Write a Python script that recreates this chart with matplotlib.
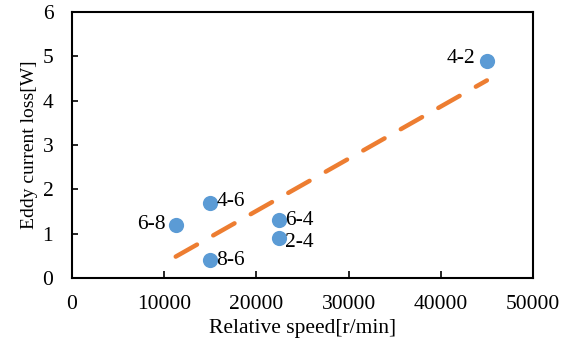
import numpy as np
import matplotlib
matplotlib.use("Agg")
import matplotlib.pyplot as plt

plt.rcParams["font.family"] = ["Liberation Serif", "DejaVu Serif"]

speed = [11250, 15000, 15000, 22500, 22500, 45000]
loss = [1.2, 1.7, 0.4, 1.3, 0.9, 4.9]
names = ["6-8", "4-6", "8-6", "6-4", "2-4", "4-2"]
# label placement: (dx px, dy px, ha)
offsets = [(-10, 0, "right"), (6, 1, "left"), (6, 0, "left"),
           (6, 0, "left"), (6, -4, "left"), (-12, 2, "right")]

fig = plt.figure(figsize=(5.73, 3.41), dpi=100)
ax = fig.add_axes([72 / 573, 1 - 278 / 341, 461 / 573, 266 / 341])

# linear trend line
k, b = np.polyfit(speed, loss, 1)
xs = np.array([min(speed), max(speed)])
ax.plot(xs, k * xs + b, color="#ED7D31", lw=3.2, dashes=(5.5, 4.2),
        dash_capstyle="round", zorder=2)

ax.scatter(speed, loss, s=120, color="#5B9BD5", zorder=3, linewidths=0)
for x, y, t, (dx, dy, ha) in zip(speed, loss, names, offsets):
    ax.annotate(t, (x, y), xytext=(dx, dy), textcoords="offset pixels",
                ha=ha, va="center", fontsize=15.5)

ax.set_xlim(0, 50000)
ax.set_ylim(0, 6)
ax.set_xticks(range(0, 50001, 10000))
ax.set_yticks(range(0, 7))
ax.tick_params(axis="x", direction="in", length=5, width=1.2, labelsize=15.5, pad=12)
ax.tick_params(axis="y", direction="in", length=4, width=1.2, labelsize=15.5, pad=13.5)
for s in ax.spines.values():
    s.set_linewidth(1.5)
ax.set_xlabel("Relative speed[r/min]", fontsize=15.5, labelpad=4)
ax.set_ylabel("Eddy current loss[W]", fontsize=14, labelpad=3)

fig.savefig("out.png", dpi=100)
